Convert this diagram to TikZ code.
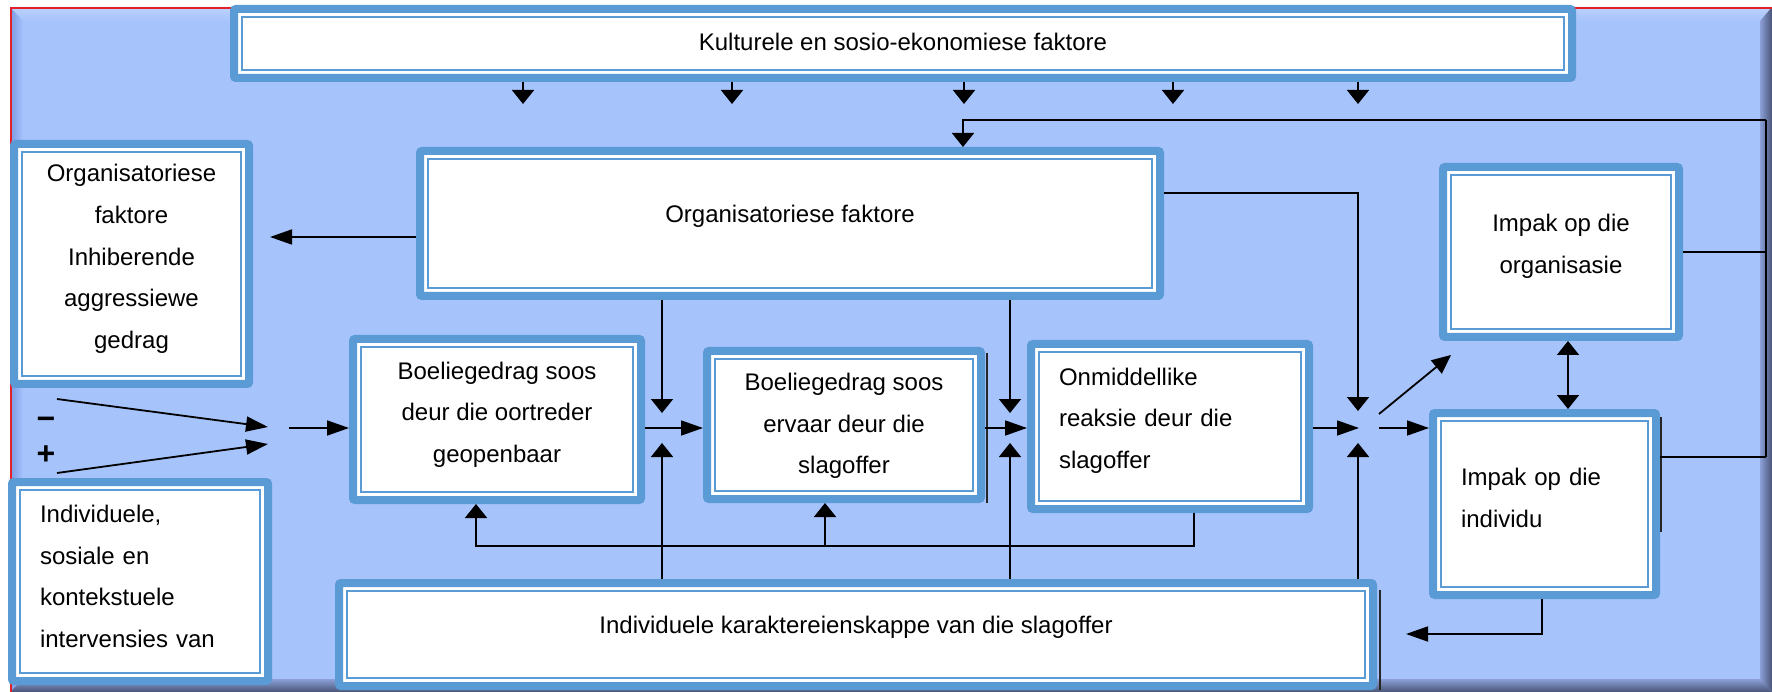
\documentclass[tikz,border=0pt]{standalone}
\usepackage{fontspec}
\setmainfont{Liberation Sans}
\usetikzlibrary{arrows.meta}

\definecolor{bgblue}{RGB}{166,195,252}
\definecolor{boxblue}{RGB}{91,155,213}
\definecolor{framered}{RGB}{226,32,40}
\definecolor{bevellight}{RGB}{228,242,255}
\definecolor{bevelside}{RGB}{124,152,226}
\definecolor{bevelmid}{RGB}{140,160,215}
\definecolor{beveldark}{RGB}{72,84,118}

\tikzset{
  dbox/.style={draw=boxblue, line width=8pt, fill=white, rounded corners=2pt, outer sep=4pt, inner sep=0pt},
  dline/.style={draw=boxblue, line width=2.5pt},
  btext/.style={font=\fontsize{24}{41.7}\selectfont, inner sep=0pt, align=center, yshift=5pt},
  ltext/.style={btext, align=left},
  conn/.style={draw=black, line width=1.8pt},
  harr/.style={conn, -{Triangle[length=22pt,width=15pt]}},
  varr/.style={conn, -{Triangle[length=14pt,width=22pt]}},
  darr/.style={conn, -{Triangle[length=19pt,width=17pt]}},
  vdbl/.style={conn, {Triangle[length=14pt,width=22pt]}-{Triangle[length=14pt,width=22pt]}},
  shadowline/.style={draw=black!85, line width=1.5pt},
  sign/.style={font=\fontsize{32}{32}\bfseries\selectfont, inner sep=0pt, anchor=base},
}

% box with a thick outer band and a thin inner line; name, x1, y1, x2, y2, text style, text
\newcommand\dblbox[7]{%
  \node[dbox, minimum width={#4-#2-8}, minimum height={#5-#3-8}] (#1) at ({(#2+#4)/2},{(#3+#5)/2}) {};
  \draw[dline] ([shift={(12,12)}]#1.north west) rectangle ([shift={(-12,-12)}]#1.south east);
  \node[#6] (#1-text) at (#1.center) {#7};
}

\begin{document}
\begin{tikzpicture}[x=1pt,y=-1pt]
\useasboundingbox (0,0) rectangle (1772,692);

% bevelled background panel
\fill[bgblue] (10,7) rectangle (1772,692);
\shade[top color=bgblue!75!white, middle color=bevellight, bottom color=bgblue]
  (10,7) -- (1772,7) -- (1760,21) -- (23,21) -- cycle;
\shade[left color=bevelside, right color=bgblue]
  (10,7) -- (23,21) -- (23,679) -- (10,692) -- cycle;
\shade[left color=bevelmid, right color=beveldark]
  (1772,7) -- (1772,692) -- (1760,679) -- (1760,21) -- cycle;
\shade[top color=bevelmid, bottom color=beveldark]
  (10,692) -- (23,679) -- (1760,679) -- (1772,692) -- cycle;
\draw[framered, line width=2.2pt] (11,692) -- (11,8) -- (1772,8);

% boxes
\dblbox{top}{230}{5}{1576}{82}{btext, yshift=-3pt}{Kulturele en sosio-ekonomiese faktore}
\dblbox{org}{416}{147}{1164}{300}{btext, yshift=2pt}{Organisatoriese faktore}
\dblbox{lb1}{10}{140}{253}{388}{btext}{Organisatoriese\\faktore\\Inhiberende\\aggressiewe\\gedrag}
\dblbox{lb2}{8}{478}{272}{685}{ltext, text width=200pt}{Individuele,\\sosiale en\\kontekstuele\\intervensies van}
\dblbox{b1}{349}{335}{645}{504}{btext}{Boeliegedrag soos\\deur die oortreder\\geopenbaar}
\dblbox{b2}{703}{347}{985}{503}{btext, yshift=-6pt}{Boeliegedrag soos\\ervaar deur die\\slagoffer}
\dblbox{b3}{1027}{340}{1313}{513}{ltext, text width=222pt, yshift=1pt}{Onmiddellike\\reaksie deur die\\slagoffer}
\dblbox{io}{1439}{163}{1683}{341}{btext, yshift=1pt}{Impak op die\\organisasie}
\dblbox{ii}{1429}{409}{1660}{599}{ltext, text width=167pt, yshift=1pt}{Impak op die\\individu}
\dblbox{bot}{335}{579}{1377}{690}{btext, yshift=2pt}{Individuele karaktereienskappe van die slagoffer}

% thin dark edges beside some boxes
\draw[shadowline] ([shift={(2,6)}]b2.north east) -- ([shift={(2,0)}]b2.south east);
\draw[shadowline] ([shift={(3,11)}]bot.north east) -- ([shift={(3,0)}]bot.south east);
\draw[shadowline] ([shift={(1,8)}]ii.north east) -- ([shift={(1,123)}]ii.north east);

% signs on the left inputs
\node[sign] (minus) at (46,429) {−};
\node[sign] (plus) at (46,464) {+};

% connector end points and junctions
\coordinate (t1) at (523,104);
\coordinate (t2) at (732,104);
\coordinate (t3) at (964,104);
\coordinate (t4) at (1173,104);
\coordinate (t5) at (1358,104);
\coordinate (rtop) at (1766,120);
\coordinate (rbot) at (1766,457);
\coordinate (fb) at (963,120);
\coordinate (oL) at (270,237);
\coordinate (oR) at (1358,193);
\coordinate (mid) at (0,428);
\coordinate (j1d) at (662,413);
\coordinate (j1u) at (662,443);
\coordinate (j2d) at (1010,413);
\coordinate (j2u) at (1010,443);
\coordinate (j3d) at (1358,411);
\coordinate (j3u) at (1358,443);
\coordinate (j3i) at (1359,428);
\coordinate (j3o) at (1379,428);
\coordinate (j3a) at (1379,414);
\coordinate (j3b) at (1451,355);
\coordinate (mS) at (57,399);
\coordinate (mT) at (268,427);
\coordinate (pS) at (57,473);
\coordinate (pT) at (268,444);
\coordinate (jL) at (289,428);
\coordinate (fbR) at (1194,546);
\coordinate (fbM) at (825,546);
\coordinate (fbL) at (476,546);
\coordinate (dbl) at (1568,0);
\coordinate (iiA) at (1542,634);
\coordinate (iiB) at (1406,634);

% cultural factors feed down
\foreach \t in {t1,t2,t3,t4,t5} \draw[varr] (top.south -| \t) -- (\t);

% outer feedback loop on the right
\draw[conn, line width=2.8pt] (rtop) -- (rbot);
\draw[varr] (rtop) -- (fb) -- (org.north -| fb);
\draw[conn] (io.east) -- (io.east -| rtop);
\draw[conn] (ii.east |- rbot) -- (rbot);

% organisational factors
\draw[harr] (org.west |- oL) -- (oL);
\draw[varr] (org.east |- oR) -- (oR) -- (j3d);
\draw[varr] (org.south -| j1d) -- (j1d);
\draw[varr] (org.south -| j2d) -- (j2d);

% individual characteristics of the victim
\draw[varr] (bot.north -| j1u) -- (j1u);
\draw[varr] (bot.north -| j2u) -- (j2u);
\draw[varr] (bot.north -| j3u) -- (j3u);

% inhibiting and intervening inputs
\draw[harr] (mS) -- (mT);
\draw[harr] (pS) -- (pT);
\draw[harr] (jL) -- (b1.west |- jL);

% main chain
\draw[harr] (b1.east |- mid) -- (b2.west |- mid);
\draw[harr] (b2.east |- mid) -- (b3.west |- mid);
\draw[harr] (b3.east |- mid) -- (j3i);
\draw[harr] (j3o) -- (ii.west |- mid);
\draw[darr] (j3a) -- (j3b);
\draw[vdbl] (io.south -| dbl) -- (ii.north -| dbl);

% reaction feeds back into the behaviour boxes
\draw[varr] (b3.south -| fbR) -- (fbR) -- (fbL) -- (b1.south -| fbL);
\draw[varr] (fbM) -- (b2.south -| fbM);

% impact on the individual feeds back
\draw[harr] (ii.south -| iiA) -- (iiA) -- (iiB);
\end{tikzpicture}
\end{document}
